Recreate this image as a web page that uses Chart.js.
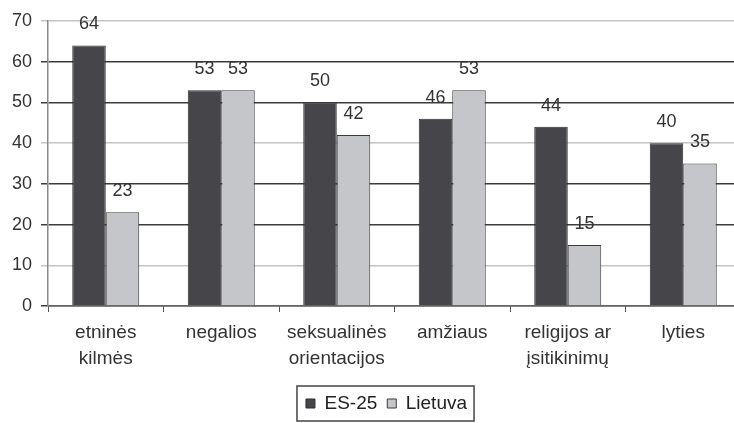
<!DOCTYPE html>
<html>
<head>
<meta charset="utf-8">
<script src="https://cdn.jsdelivr.net/npm/chart.js@4/dist/chart.umd.min.js"></script>
<style>
  html, body { margin: 0; padding: 0; background: #fff; overflow: hidden; }
  #wrap { width: 745px; height: 423px; position: relative; }
</style>
</head>
<body>
<div id="wrap"><canvas id="chartCanvas"></canvas></div>
<script>
// Kategorijos ir reikšmės (%)
const categories = [
  ['etninės', 'kilmės'],
  'negalios',
  ['seksualinės', 'orientacijos'],
  'amžiaus',
  ['religijos ar', 'įsitikinimų'],
  'lyties'
];
const es25 = [64, 53, 50, 46, 44, 40];
const lietuva = [23, 53, 42, 53, 15, 35];
const yTicks = [0, 10, 20, 30, 40, 50, 60, 70];

const FONT = '"Liberation Sans", Arial, sans-serif';

// skaičiai virš stulpelių
const valueLabels = {
  id: 'valueLabels',
  afterDatasetsDraw(chart) {
    const ctx = chart.ctx;
    ctx.save();
    ctx.font = '18px ' + FONT;
    ctx.fillStyle = '#333';
    ctx.textAlign = 'center';
    ctx.textBaseline = 'bottom';
    chart.data.datasets.forEach((ds, i) => {
      chart.getDatasetMeta(i).data.forEach((bar, j) => {
        ctx.fillText(ds.data[j], bar.x, bar.y - 12);
      });
    });
    ctx.restore();
  }
};

// legenda truputį dešiniau + rėmelis aplink
const legendFrame = {
  id: 'legendFrame',
  afterLayout(chart) {
    chart.legend.left += 16;
    chart.legend.right += 16;
  },
  afterDraw(chart) {
    const boxes = chart.legend.legendHitBoxes;
    if (!boxes || !boxes.length) return;
    const l = Math.min(...boxes.map(b => b.left)) - 9;
    const r = Math.max(...boxes.map(b => b.left + b.width)) + 7;
    const t = Math.min(...boxes.map(b => b.top)) - 8;
    const h = boxes[0].height + 16;
    const ctx = chart.ctx;
    ctx.save();
    ctx.strokeStyle = '#444';
    ctx.lineWidth = 1.5;
    ctx.strokeRect(l, t, r - l, h);
    ctx.restore();
  }
};

const gridColor = ctx => {
  const v = ctx.tick && ctx.tick.value;
  if (v === 10 || v === 40 || v === 70) return '#c4c4c4';
  return '#3c3c3c';
};

new Chart(document.getElementById('chartCanvas').getContext('2d'), {
  type: 'bar',
  data: {
    labels: categories,
    datasets: [{
      label: 'ES-25',
      data: es25,
      backgroundColor: '#46464a',
      borderColor: '#2e2e2e',
      borderWidth: 1,
      categoryPercentage: 0.58,
      barPercentage: 1
    }, {
      label: 'Lietuva',
      data: lietuva,
      backgroundColor: '#c5c6ca',
      borderColor: '#3a3a3a',
      borderWidth: 1,
      categoryPercentage: 0.58,
      barPercentage: 1
    }]
  },
  options: {
    responsive: true,
    maintainAspectRatio: false,
    animation: false,
    layout: { padding: { top: 21, right: 4, bottom: 0, left: 0 } },
    plugins: {
      tooltip: { enabled: false },
      legend: {
        position: 'bottom',
        labels: {
          color: '#222',
          font: { family: FONT, size: 19 },
          boxWidth: 9,
          boxHeight: 9,
          padding: 10
        }
      }
    },
    scales: {
      x: {
        afterFit: s => { s.height = 78; },
        grid: {
          drawOnChartArea: false,
          drawTicks: true,
          tickLength: 6,
          color: '#555'
        },
        border: { color: '#666', width: 1.5 },
        ticks: {
          color: '#333',
          font: { family: FONT, size: 19, lineHeight: 1.37 },
          padding: 8,
          maxRotation: 0
        }
      },
      y: {
        min: 0,
        max: 70,
        afterFit: s => { s.width = 48; },
        afterBuildTicks: s => { s.ticks = yTicks.map(v => ({ value: v })); },
        grid: {
          color: gridColor,
          lineWidth: 1.5,
          tickLength: 7
        },
        border: { color: '#888', width: 1.5 },
        ticks: {
          color: '#333',
          font: { family: FONT, size: 18 },
          padding: 9
        }
      }
    }
  },
  plugins: [valueLabels, legendFrame]
});
</script>
</body>
</html>
